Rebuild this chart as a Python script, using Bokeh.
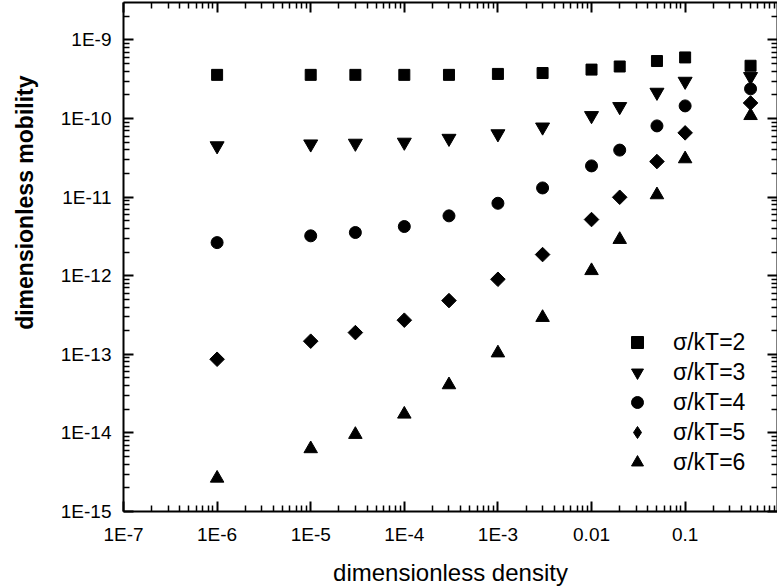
import math
from bokeh.plotting import figure
from bokeh.models import (LogAxis, FixedTicker, Legend, LegendItem, Range1d,
                          CustomJSTickFormatter)
from bokeh.embed import file_html
from bokeh.resources import INLINE

# ---- data ----
density = [1e-6, 1e-5, 3e-5, 1e-4, 3e-4, 1e-3, 3e-3, 0.01, 0.02, 0.05, 0.1, 0.5]
mob_s2 = [3.6e-10, 3.6e-10, 3.6e-10, 3.6e-10, 3.6e-10, 3.7e-10, 3.8e-10, 4.2e-10, 4.6e-10, 5.4e-10, 6.0e-10, 4.7e-10]
mob_s3 = [4.5e-11, 4.75e-11, 4.85e-11, 5.0e-11, 5.6e-11, 6.4e-11, 7.8e-11, 1.09e-10, 1.42e-10, 2.16e-10, 2.98e-10, 3.42e-10]
mob_s4 = [2.64e-12, 3.22e-12, 3.55e-12, 4.23e-12, 5.78e-12, 8.36e-12, 1.31e-11, 2.5e-11, 3.97e-11, 8.07e-11, 1.45e-10, 2.39e-10]
mob_s5 = [8.66e-14, 1.47e-13, 1.89e-13, 2.72e-13, 4.83e-13, 9.02e-13, 1.86e-12, 5.19e-12, 9.97e-12, 2.84e-11, 6.58e-11, 1.58e-10]
mob_s6 = [2.65e-15, 6.28e-15, 9.55e-15, 1.73e-14, 4.09e-14, 1.04e-13, 2.94e-13, 1.16e-12, 2.89e-12, 1.07e-11, 3.07e-11, 1.09e-10]
series_labels = ["σ/kT=2", "σ/kT=3", "σ/kT=4", "σ/kT=5", "σ/kT=6"]

x_title = "dimensionless density"
y_title = "dimensionless mobility"

x_tick_values = [1e-7, 1e-6, 1e-5, 1e-4, 1e-3, 1e-2, 1e-1, 1.0]
x_tick_labels = ["1E-7", "1E-6", "1E-5", "1E-4", "1E-3", "0.01", "0.1", "1"]
y_tick_values = [1e-15, 1e-14, 1e-13, 1e-12, 1e-11, 1e-10, 1e-9]
y_tick_labels = ["1E-15", "1E-14", "1E-13", "1E-12", "1E-11", "1E-10", "1E-9"]

x_minor = [m * 10.0 ** e for e in range(-7, 0) for m in range(2, 10)]
y_minor = [m * 10.0 ** e for e in range(-15, -8) for m in range(2, 10)]

FONT = "Liberation Sans"

p = figure(width=777, height=588, x_axis_type="log", y_axis_type="log",
           x_range=Range1d(1e-7, 0.97), y_range=Range1d(1e-15, 3.0e-9),
           output_backend="svg", toolbar_location=None,
           min_border_left=123, min_border_right=0, min_border_top=2, min_border_bottom=77,
           background_fill_color="white", border_fill_color="white")
p.grid.visible = False
p.outline_line_color = None

bottom_axis = p.below[0]
left_axis = p.left[0]
top_axis = LogAxis()
right_axis = LogAxis()
p.add_layout(top_axis, "above")
p.add_layout(right_axis, "right")


def style_axis(ax, ticks, minor, labels, show):
    ax.ticker = FixedTicker(ticks=ticks, minor_ticks=minor)
    ax.axis_line_width = 2
    ax.axis_line_color = "black"
    ax.major_tick_line_width = 2
    ax.minor_tick_line_width = 1.5
    ax.major_tick_in = 10
    ax.major_tick_out = 0
    ax.minor_tick_in = 6
    ax.minor_tick_out = 0
    if show:
        ax.major_label_overrides = dict(zip(ticks, labels))
        ax.major_label_text_font = FONT
        ax.major_label_text_font_size = "19px"
        ax.major_label_text_color = "black"
        ax.major_label_standoff = 12
    else:
        ax.formatter = CustomJSTickFormatter(code="return ''")
        ax.major_label_text_font_size = "1px"
        ax.major_label_standoff = 0


style_axis(bottom_axis, x_tick_values, x_minor, x_tick_labels, True)
style_axis(top_axis, x_tick_values, x_minor, x_tick_labels, False)
style_axis(left_axis, y_tick_values, y_minor, y_tick_labels, True)
style_axis(right_axis, y_tick_values, y_minor, y_tick_labels, False)

bottom_axis.axis_label = x_title
bottom_axis.axis_label_text_font = FONT
bottom_axis.axis_label_text_font_size = "24px"
bottom_axis.axis_label_text_font_style = "normal"
bottom_axis.axis_label_text_color = "black"
bottom_axis.axis_label_standoff = 11

# the reference's y title sits above the frame centre; leading no-break spaces
# move the centred title up the axis
left_axis.axis_label = "\u00a0" * 17 + y_title
left_axis.axis_label_text_font = FONT
left_axis.axis_label_text_font_size = "23px"
left_axis.axis_label_text_font_style = "bold"
left_axis.axis_label_text_color = "black"
left_axis.axis_label_standoff = 20

r2 = p.scatter(density, mob_s2, marker="square", size=11, color="black")
r3 = p.scatter(density, mob_s3, marker="inverted_triangle", size=14, color="black")
r4 = p.scatter(density, mob_s4, marker="circle", size=12, color="black")
r5 = p.scatter(density, mob_s5, marker="square", angle=math.pi / 4, size=10.3, color="black")
r6 = p.scatter(density, mob_s6, marker="triangle", size=13.5, color="black")
# legend swatch for the diamond series (legend swatches are drawn without rotation)
r5_key = p.scatter(density, mob_s5, marker="diamond", size=14, color="black", visible=False)

items = [LegendItem(label=lab, renderers=[r])
         for lab, r in zip(series_labels, [r2, r3, r4, r5_key, r6])]
legend = Legend(items=items, location=(499, 34),
                label_text_font=FONT, label_text_font_size="23px", label_text_color="black",
                glyph_width=30, glyph_height=30, label_height=30, label_standoff=21,
                spacing=0, padding=0, margin=0,
                border_line_color=None, background_fill_alpha=0)
p.add_layout(legend)

open("out.html", "w").write(file_html(p, INLINE))
